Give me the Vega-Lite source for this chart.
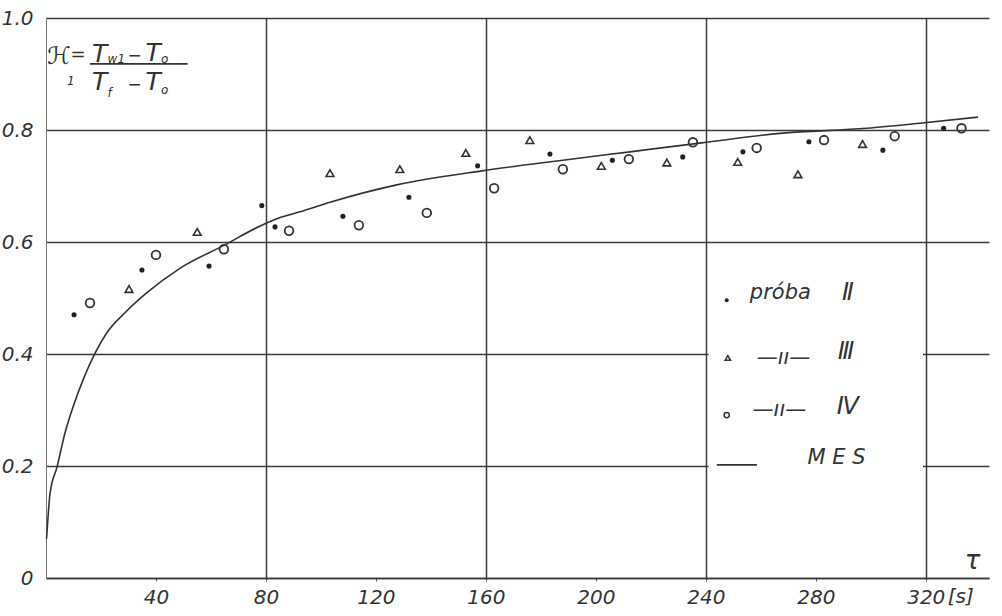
{
  "$schema": "https://vega.github.io/schema/vega-lite/v6.json",
  "width": 943,
  "height": 560,
  "autosize": {"type": "none"},
  "padding": {"left": 46, "top": 18, "right": 13, "bottom": 38},
  "background": "white",
  "config": {"view": {"stroke": null}, "font": "DejaVu Sans"},
  "datasets": {
    "mes": [
      {"tau": 0.2, "k": 0.07}, {"tau": 1.5, "k": 0.152}, {"tau": 4, "k": 0.198}, {"tau": 6.9, "k": 0.259},
      {"tau": 9.8, "k": 0.305}, {"tau": 14, "k": 0.36}, {"tau": 17.8, "k": 0.401}, {"tau": 22, "k": 0.437},
      {"tau": 29, "k": 0.475}, {"tau": 36.6, "k": 0.509}, {"tau": 48.7, "k": 0.553}, {"tau": 64.7, "k": 0.594},
      {"tau": 78.5, "k": 0.63}, {"tau": 86, "k": 0.645}, {"tau": 92.4, "k": 0.654}, {"tau": 103.3, "k": 0.671},
      {"tau": 127.6, "k": 0.702}, {"tau": 158.5, "k": 0.727}, {"tau": 188, "k": 0.746}, {"tau": 212.4, "k": 0.761},
      {"tau": 238.5, "k": 0.777}, {"tau": 267, "k": 0.794}, {"tau": 298.5, "k": 0.803}, {"tau": 317.8, "k": 0.812},
      {"tau": 339, "k": 0.823}
    ],
    "pts": [
      {"s": "II", "tau": 10.2, "k": 0.47}, {"s": "II", "tau": 34.9, "k": 0.55}, {"s": "II", "tau": 59.3, "k": 0.557},
      {"s": "II", "tau": 78.5, "k": 0.665}, {"s": "II", "tau": 83.3, "k": 0.627}, {"s": "II", "tau": 108, "k": 0.646},
      {"s": "II", "tau": 132, "k": 0.68}, {"s": "II", "tau": 157, "k": 0.736}, {"s": "II", "tau": 183.3, "k": 0.757},
      {"s": "II", "tau": 206, "k": 0.746}, {"s": "II", "tau": 231.6, "k": 0.752}, {"s": "II", "tau": 253.5, "k": 0.761},
      {"s": "II", "tau": 277.5, "k": 0.779}, {"s": "II", "tau": 304.4, "k": 0.764}, {"s": "II", "tau": 326.5, "k": 0.803},
      {"s": "III", "tau": 30.2, "k": 0.516}, {"s": "III", "tau": 55, "k": 0.618}, {"s": "III", "tau": 103.3, "k": 0.723},
      {"s": "III", "tau": 128.7, "k": 0.73}, {"s": "III", "tau": 152.7, "k": 0.759}, {"s": "III", "tau": 176, "k": 0.782},
      {"s": "III", "tau": 202, "k": 0.736}, {"s": "III", "tau": 225.8, "k": 0.742}, {"s": "III", "tau": 251.6, "k": 0.743},
      {"s": "III", "tau": 273.5, "k": 0.721}, {"s": "III", "tau": 297, "k": 0.775},
      {"s": "IV", "tau": 16, "k": 0.491}, {"s": "IV", "tau": 40, "k": 0.577}, {"s": "IV", "tau": 64.7, "k": 0.587},
      {"s": "IV", "tau": 88.4, "k": 0.62}, {"s": "IV", "tau": 113.8, "k": 0.63}, {"s": "IV", "tau": 138.5, "k": 0.652},
      {"s": "IV", "tau": 163, "k": 0.696}, {"s": "IV", "tau": 188, "k": 0.73}, {"s": "IV", "tau": 212, "k": 0.748},
      {"s": "IV", "tau": 235.3, "k": 0.778}, {"s": "IV", "tau": 258.5, "k": 0.768}, {"s": "IV", "tau": 283, "k": 0.782},
      {"s": "IV", "tau": 308.7, "k": 0.789}, {"s": "IV", "tau": 333, "k": 0.803}
    ],
    "legsym": [
      {"s": "II", "tau": 247.6, "k": 0.496},
      {"s": "III", "tau": 248, "k": 0.393},
      {"s": "IV", "tau": 247.6, "k": 0.291}
    ],
    "bigtext": [
      {"tau": 16.7, "k": 0.936, "t": "T"}, {"tau": 36.2, "k": 0.9375, "t": "T"},
      {"tau": 16.7, "k": 0.886, "t": "T"}, {"tau": 36.2, "k": 0.886, "t": "T"}
    ],
    "minus": [
      {"tau": 29.6, "k": 0.933, "t": "−"}, {"tau": 29.6, "k": 0.88, "t": "−"}
    ],
    "subtext": [
      {"tau": 7.6, "k": 0.8875, "t": "1"}, {"tau": 22.4, "k": 0.926, "t": "w1"}, {"tau": 41.8, "k": 0.926, "t": "o"},
      {"tau": 22.4, "k": 0.866, "t": "f"}, {"tau": 41.8, "k": 0.871, "t": "o"}
    ],
    "legtext": [
      {"tau": 256, "k": 0.509, "t": "próba"},
      {"tau": 258.5, "k": 0.393, "t": "—ıı—"},
      {"tau": 257, "k": 0.3, "t": "—ıı—"},
      {"tau": 277, "k": 0.214, "t": "M E S"}
    ],
    "roman": [
      {"tau": 289.5, "k": 0.509, "t": "Ⅱ"},
      {"tau": 288, "k": 0.404, "t": "Ⅲ"},
      {"tau": 287.6, "k": 0.305, "t": "Ⅳ"}
    ]
  },
  "layer": [
    {
      "data": {"values": [{"a": 241, "b": 319, "c": 0.12, "d": 0.575}]},
      "mark": {"type": "rect", "fill": "white"},
      "encoding": {
        "x": {
          "field": "a", "type": "quantitative",
          "scale": {"domain": [0, 343], "nice": false, "zero": false},
          "axis": {
            "title": null,
            "values": [40, 80, 120, 160, 200, 240, 280, 320],
            "grid": true,
            "gridColor": "#3a3a3a",
            "gridWidth": 1.5,
            "gridOpacity": {"condition": {"test": "datum.value === 40 || datum.value === 120 || datum.value === 200 || datum.value === 280", "value": 0}, "value": 1},
            "domainColor": "#3a3a3a",
            "domainWidth": 1.5,
            "tickColor": "#555",
            "tickSize": 3,
            "labelFont": "DejaVu Sans",
            "labelFontStyle": "italic",
            "labelFontSize": 20,
            "labelColor": "#333",
            "labelBaseline": "top",
            "labelPadding": 6
          }
        },
        "x2": {"field": "b"},
        "y": {
          "field": "c", "type": "quantitative",
          "scale": {"domain": [0, 1], "nice": false},
          "axis": {
            "title": null,
            "values": [0, 0.2, 0.4, 0.6, 0.8, 1.0],
            "labelExpr": "datum.value === 0 ? '0' : format(datum.value, '.1f')",
            "grid": true,
            "gridColor": "#3a3a3a",
            "gridWidth": 1.5,
            "domainColor": "#777",
            "domainWidth": 1,
            "tickSize": 0,
            "labelFont": "DejaVu Sans",
            "labelFontStyle": "italic",
            "labelFontSize": 20,
            "labelColor": "#333",
            "labelPadding": 13,
            "encode": {"labels": {"update": {"dy": {"signal": "datum.value === 0 ? 6 : 0"}}}}
          }
        },
        "y2": {"field": "d"}
      }
    },
    {
      "data": {"name": "mes"},
      "mark": {"type": "line", "color": "#333", "strokeWidth": 1.6, "interpolate": "monotone"},
      "encoding": {
        "x": {"field": "tau", "type": "quantitative"},
        "y": {"field": "k", "type": "quantitative"}
      }
    },
    {
      "data": {"name": "pts"},
      "transform": [{"filter": "datum.s === 'II'"}],
      "mark": {"type": "point", "shape": "circle", "filled": true, "color": "#222", "size": 26, "opacity": 1},
      "encoding": {
        "x": {"field": "tau", "type": "quantitative"},
        "y": {"field": "k", "type": "quantitative"}
      }
    },
    {
      "data": {"name": "pts"},
      "transform": [{"filter": "datum.s === 'III'"}],
      "mark": {"type": "point", "shape": "triangle-up", "filled": false, "color": "#333", "size": 60, "strokeWidth": 1.6, "opacity": 1},
      "encoding": {
        "x": {"field": "tau", "type": "quantitative"},
        "y": {"field": "k", "type": "quantitative"}
      }
    },
    {
      "data": {"name": "pts"},
      "transform": [{"filter": "datum.s === 'IV'"}],
      "mark": {"type": "point", "shape": "circle", "filled": false, "color": "#333", "size": 75, "strokeWidth": 1.8, "opacity": 1},
      "encoding": {
        "x": {"field": "tau", "type": "quantitative"},
        "y": {"field": "k", "type": "quantitative"}
      }
    },
    {
      "data": {"name": "legsym"},
      "transform": [{"filter": "datum.s === 'II'"}],
      "mark": {"type": "point", "shape": "circle", "filled": true, "color": "#222", "size": 16, "opacity": 1},
      "encoding": {
        "x": {"field": "tau", "type": "quantitative"},
        "y": {"field": "k", "type": "quantitative"}
      }
    },
    {
      "data": {"name": "legsym"},
      "transform": [{"filter": "datum.s === 'III'"}],
      "mark": {"type": "point", "shape": "triangle-up", "filled": false, "color": "#333", "size": 30, "strokeWidth": 1.5, "opacity": 1},
      "encoding": {
        "x": {"field": "tau", "type": "quantitative"},
        "y": {"field": "k", "type": "quantitative"}
      }
    },
    {
      "data": {"name": "legsym"},
      "transform": [{"filter": "datum.s === 'IV'"}],
      "mark": {"type": "point", "shape": "circle", "filled": false, "color": "#333", "size": 28, "strokeWidth": 1.5, "opacity": 1},
      "encoding": {
        "x": {"field": "tau", "type": "quantitative"},
        "y": {"field": "k", "type": "quantitative"}
      }
    },
    {
      "data": {"values": [{"a": 244, "b": 258.6, "c": 0.202}, {"a": 16, "b": 51.5, "c": 0.918}]},
      "mark": {"type": "rule", "color": "#333", "strokeWidth": 1.6},
      "encoding": {
        "x": {"field": "a", "type": "quantitative"},
        "x2": {"field": "b"},
        "y": {"field": "c", "type": "quantitative"}
      }
    },
    {
      "data": {"values": [{"tau": 0.4, "k": 0.93, "t": "ℋ"}]},
      "mark": {"type": "text", "align": "left", "baseline": "middle", "fontSize": 24, "color": "#333"},
      "encoding": {
        "x": {"field": "tau", "type": "quantitative"},
        "y": {"field": "k", "type": "quantitative"},
        "text": {"field": "t"}
      }
    },
    {
      "data": {"values": [{"tau": 8.9, "k": 0.934, "t": "="}]},
      "mark": {"type": "text", "align": "left", "baseline": "middle", "fontSize": 18, "color": "#333"},
      "encoding": {
        "x": {"field": "tau", "type": "quantitative"},
        "y": {"field": "k", "type": "quantitative"},
        "text": {"field": "t"}
      }
    },
    {
      "data": {"name": "bigtext"},
      "mark": {"type": "text", "align": "left", "baseline": "middle", "fontSize": 25, "fontStyle": "italic", "color": "#333"},
      "encoding": {
        "x": {"field": "tau", "type": "quantitative"},
        "y": {"field": "k", "type": "quantitative"},
        "text": {"field": "t"}
      }
    },
    {
      "data": {"name": "minus"},
      "mark": {"type": "text", "align": "left", "baseline": "middle", "fontSize": 17, "color": "#333"},
      "encoding": {
        "x": {"field": "tau", "type": "quantitative"},
        "y": {"field": "k", "type": "quantitative"},
        "text": {"field": "t"}
      }
    },
    {
      "data": {"name": "subtext"},
      "mark": {"type": "text", "align": "left", "baseline": "middle", "fontSize": 12, "fontStyle": "italic", "color": "#333"},
      "encoding": {
        "x": {"field": "tau", "type": "quantitative"},
        "y": {"field": "k", "type": "quantitative"},
        "text": {"field": "t"}
      }
    },
    {
      "data": {"name": "legtext"},
      "mark": {"type": "text", "align": "left", "baseline": "middle", "fontSize": 21, "fontStyle": "italic", "color": "#333"},
      "encoding": {
        "x": {"field": "tau", "type": "quantitative"},
        "y": {"field": "k", "type": "quantitative"},
        "text": {"field": "t"}
      }
    },
    {
      "data": {"name": "roman"},
      "mark": {"type": "text", "align": "left", "baseline": "middle", "fontSize": 24, "fontStyle": "italic", "color": "#333"},
      "encoding": {
        "x": {"field": "tau", "type": "quantitative"},
        "y": {"field": "k", "type": "quantitative"},
        "text": {"field": "t"}
      }
    },
    {
      "data": {"values": [{"tau": 337, "k": 0.03, "t": "τ"}]},
      "mark": {"type": "text", "align": "center", "baseline": "middle", "fontSize": 26, "fontStyle": "italic", "color": "#333"},
      "encoding": {
        "x": {"field": "tau", "type": "quantitative"},
        "y": {"field": "k", "type": "quantitative"},
        "text": {"field": "t"}
      }
    },
    {
      "data": {"values": [{"tau": 328, "k": -0.034, "t": "[s]"}]},
      "mark": {"type": "text", "align": "left", "baseline": "middle", "fontSize": 20, "fontStyle": "italic", "color": "#333"},
      "encoding": {
        "x": {"field": "tau", "type": "quantitative"},
        "y": {"field": "k", "type": "quantitative"},
        "text": {"field": "t"}
      }
    }
  ]
}
